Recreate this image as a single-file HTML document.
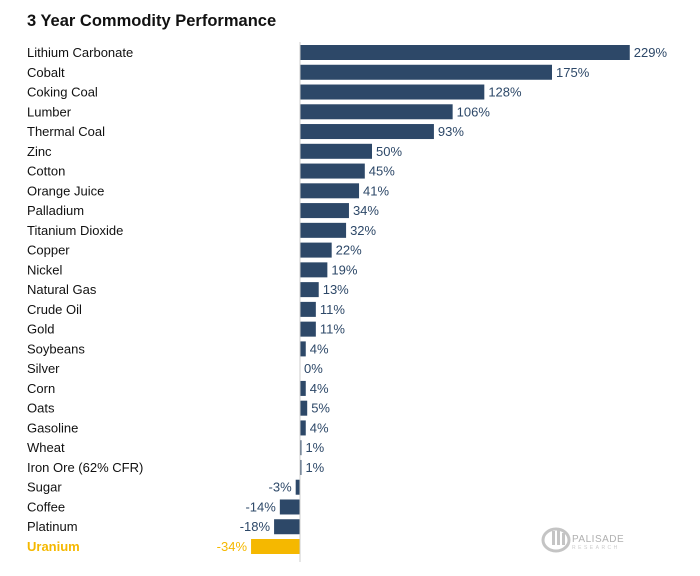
<!DOCTYPE html>
<html><head><meta charset="utf-8"><style>
body{margin:0;background:#fff;font-family:"Liberation Sans",sans-serif}
svg{display:block}
</style></head><body>
<svg id="c" width="700" height="576">
<text x="27" y="26" font-size="16.5" font-weight="bold" fill="#111">3 Year Commodity Performance</text>
<g id="bars"></g>
<g>
<ellipse cx="556" cy="540" rx="13" ry="11" fill="none" stroke="#c4c4c4" stroke-width="3"/>
<rect x="552" y="531" width="3" height="14" fill="#c4c4c4"/><rect x="557" y="528" width="3" height="17" fill="#c4c4c4"/><rect x="562" y="533" width="3" height="12" fill="#c4c4c4"/>
<text x="572" y="542" font-size="10" fill="#b0b0b0" letter-spacing="0.5">PALISADE</text>
<text x="572" y="549" font-size="5" fill="#ccc" letter-spacing="2.5">RESEARCH</text>
</g>
</svg>
<script>
const categories=["Lithium Carbonate","Cobalt","Coking Coal","Lumber","Thermal Coal","Zinc","Cotton","Orange Juice","Palladium","Titanium Dioxide","Copper","Nickel","Natural Gas","Crude Oil","Gold","Soybeans","Silver","Corn","Oats","Gasoline","Wheat","Iron Ore (62% CFR)","Sugar","Coffee","Platinum","Uranium"];
const values=[229,175,128,106,93,50,45,41,34,32,22,19,13,11,11,4,0,4,5,4,1,1,-3,-14,-18,-34];
const highlight=["Uranium"];
const NS="http://www.w3.org/2000/svg";
const g=document.getElementById('bars');
const x0=300,k=1.44,top0=45,step=19.76,bh=15;
const xs=v=>x0+v*k, ys=i=>top0+i*step;
function mk(t,a){const e=document.createElementNS(NS,t);for(const n in a)e.setAttribute(n,a[n]);return e;}
categories.forEach((c,i)=>{
  const v=values[i],hl=highlight.includes(c),col=hl?"#f5b800":"#2d4868";
  const lab=mk('text',{x:27,y:ys(i)+12,'font-size':13,fill:hl?"#f5b800":"#111",'font-weight':hl?'bold':'normal'});
  lab.textContent=c;
  
  
  g.appendChild(lab);
  const r=mk('rect',{x:Math.min(xs(0),xs(v)),y:ys(i),width:Math.abs(xs(v)-xs(0)),height:bh,fill:col});
  
  
  g.appendChild(r);
  const t=mk('text',{x:v>=0?xs(v)+4:xs(v)-4,y:ys(i)+12,'font-size':13,fill:hl?"#f5b800":"#2d4868",'text-anchor':v>=0?'start':'end'});
  t.textContent=v+"%";
  
  
  g.appendChild(t);
});
const ax=mk('line',{x1:x0,x2:x0,y1:42,y2:562,stroke:"#ccc",'stroke-width':1});


g.appendChild(ax);
</script>
</body></html>
